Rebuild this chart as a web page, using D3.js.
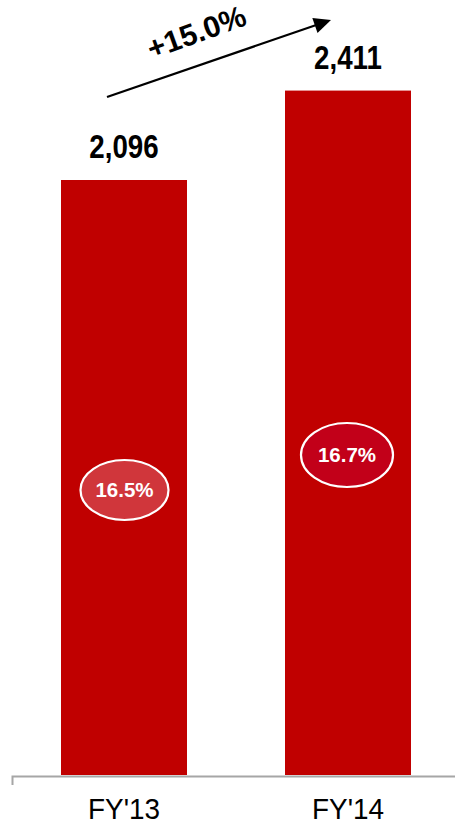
<!DOCTYPE html>
<html>
<head>
<meta charset="utf-8">
<script src="https://cdn.jsdelivr.net/npm/d3@7"></script>
<style>
  html, body { margin: 0; padding: 0; background: #fff; }
  svg { display: block; }
</style>
</head>
<body>
<svg id="chart" width="455" height="826"></svg>
<script>
// Revenue by fiscal year, with margin badges
const categories = ["FY'13", "FY'14"];
const values = [2096, 2411];
const valueLabels = ["2,096", "2,411"];
const marginLabels = ["16.5%", "16.7%"];
const marginFills = ["#D0363B", "#C20019"];
const growthLabel = "+15.0%";

const W = 455, H = 826;
const baseY = 775;
const svg = d3.select("#chart");

const x = d3.scaleBand()
  .domain(categories)
  .range([12, 460])
  .paddingInner(0.4375)
  .paddingOuter(0.21875);

const y = d3.scaleLinear()
  .domain([0, 2096])
  .range([baseY, 180]);

// bars
svg.selectAll("rect.bar")
  .data(values)
  .join("rect")
  .attr("class", "bar")
  .attr("x", (d, i) => x(categories[i]))
  .attr("width", x.bandwidth())
  .attr("y", d => y(d))
  .attr("height", d => baseY - y(d))
  .attr("fill", "#C00000");

// value labels above bars
svg.selectAll("text.val")
  .data(values)
  .join("text")
  .attr("class", "val")
  .attr("transform", (d, i) => `translate(${x(categories[i]) + x.bandwidth() / 2},${y(d) - 22}) scale(0.84,1)`)
  .attr("text-anchor", "middle")
  .attr("font-family", "Liberation Sans, Arial, sans-serif")
  .attr("font-weight", "bold")
  .attr("font-size", 33)
  .attr("fill", "#000")
  .text((d, i) => valueLabels[i]);

// margin badges
const badgeY = [490, 455];
const badgeR = [[44, 30], [46, 32]];
const badges = svg.selectAll("g.badge")
  .data(marginLabels)
  .join("g")
  .attr("class", "badge")
  .attr("transform", (d, i) => `translate(${x(categories[i]) + x.bandwidth() / 2 + (i ? -1 : 0.5)},${badgeY[i]})`);

badges.append("ellipse")
  .attr("rx", (d, i) => badgeR[i][0])
  .attr("ry", (d, i) => badgeR[i][1])
  .attr("fill", (d, i) => marginFills[i])
  .attr("stroke", "#fff")
  .attr("stroke-width", 2.2);

badges.append("text")
  .attr("text-anchor", "middle")
  .attr("dy", "0.35em")
  .attr("font-family", "Liberation Sans, Arial, sans-serif")
  .attr("font-weight", "bold")
  .attr("font-size", 20.5)
  .attr("fill", "#fff")
  .text(d => d);

// category axis
const axis = d3.axisBottom(x).tickSizeInner(0).tickSizeOuter(9).tickPadding(0);
const gAxis = svg.append("g")
  .attr("transform", `translate(0,${baseY + 1})`)
  .call(axis);
gAxis.select(".domain").attr("stroke", "#A6A6A6").attr("stroke-width", 2);
gAxis.selectAll(".tick line").remove();
gAxis.selectAll(".tick text")
  .attr("y", 0)
  .attr("dy", 0)
  .attr("transform", "translate(0,43) scale(0.93,1)")
  .attr("font-family", "Liberation Sans, Arial, sans-serif")
  .attr("font-size", 30)
  .attr("fill", "#000");

// growth arrow
const a0 = [107, 97], a1 = [331, 20];
const ang = Math.atan2(a1[1] - a0[1], a1[0] - a0[0]);
svg.append("line")
  .attr("x1", a0[0]).attr("y1", a0[1])
  .attr("x2", a1[0] - 6).attr("y2", a1[1] + 2)
  .attr("stroke", "#000")
  .attr("stroke-width", 2.2);
svg.append("path")
  .attr("d", () => {
    const L = 17, w = 8;
    const bx = a1[0] - L * Math.cos(ang), by = a1[1] - L * Math.sin(ang);
    const px = -Math.sin(ang) * w, py = Math.cos(ang) * w;
    return `M${a1[0]},${a1[1]}L${bx + px},${by + py}L${bx - px},${by - py}Z`;
  })
  .attr("fill", "#000");

svg.append("text")
  .attr("transform", `translate(200,42) rotate(${ang * 180 / Math.PI - 1})`)
  .attr("text-anchor", "middle")
  .attr("font-family", "Liberation Sans, Arial, sans-serif")
  .attr("font-weight", "bold")
  .attr("font-size", 30)
  .attr("fill", "#000")
  .text(growthLabel);
</script>
</body>
</html>
